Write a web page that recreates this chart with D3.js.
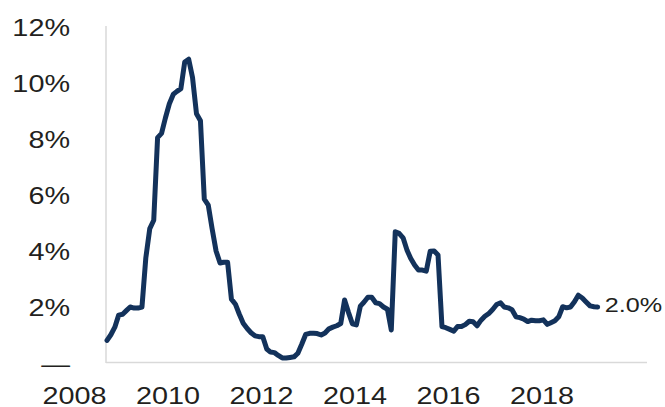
<!DOCTYPE html>
<html>
<head>
<meta charset="utf-8">
<script src="https://cdn.jsdelivr.net/npm/d3@7"></script>
<style>
  body { margin: 0; background: #fff; }
  text { font-family: "Liberation Sans", Arial, sans-serif; fill: #231f20; }
</style>
</head>
<body>
<svg width="665" height="407"></svg>
<script>
// monthly series, first point Sep 2008, last Mar 2019 (percent)
var startMonth = [2008, 8];
var values = [
  0.81, 1.01, 1.28, 1.71, 1.74, 1.88, 2.0, 1.96, 1.96, 2.0,
  3.75, 4.8, 5.1, 8.05, 8.2, 8.75, 9.26, 9.6, 9.7, 9.8,
  10.75, 10.85, 10.2, 8.9, 8.65, 5.85, 5.64, 4.8, 4.0, 3.57,
  3.6, 3.6, 2.28, 2.1, 1.75, 1.42, 1.23, 1.08, 0.97, 0.94,
  0.94, 0.5, 0.39, 0.37, 0.27, 0.18, 0.18, 0.2, 0.22, 0.35,
  0.68, 1.02, 1.06, 1.06, 1.05, 1.0, 1.07, 1.22, 1.28, 1.33,
  1.41, 2.25, 1.8, 1.4, 1.36, 2.03, 2.17, 2.35, 2.35, 2.15,
  2.12, 2.0, 1.92, 1.18, 4.69, 4.63, 4.47, 4.03, 3.74, 3.5,
  3.32, 3.32, 3.28, 3.99, 4.0, 3.86, 1.3, 1.26, 1.2, 1.14,
  1.3, 1.3, 1.37, 1.49, 1.47, 1.33, 1.53, 1.67, 1.77, 1.91,
  2.09, 2.15, 2.0, 1.97, 1.9, 1.65, 1.62, 1.57, 1.48, 1.53,
  1.51, 1.51, 1.54, 1.38, 1.44, 1.51, 1.65, 2.01, 1.97, 2.0,
  2.19, 2.42, 2.32, 2.18, 2.04, 2.01, 2.0
];
var yTicks = [0, 2, 4, 6, 8, 10, 12];
var xTickYears = [2008, 2010, 2012, 2014, 2016, 2018];
var lastLabel = "2.0%";

var data = values.map(function(v, i) {
  return { date: new Date(startMonth[0], startMonth[1] + i, 15), value: v };
});

var svg = d3.select("svg");
var plotLeft = 106, plotRight = 647, plotTop = 27, plotBottom = 363;
var stretch = "scale(1.2,1)";

var xScale = d3.scaleTime()
  .domain([new Date(2008, 0, 1), new Date(2020, 0, 1)])
  .range([74, 635]);
var yScale = d3.scaleLinear().domain([0, 12]).range([plotBottom, plotTop]);

// frame lines
svg.append("line")
  .attr("x1", plotLeft).attr("x2", plotLeft)
  .attr("y1", plotTop - 1).attr("y2", plotBottom)
  .attr("stroke", "#d9d9d9").attr("stroke-width", 1.5);
svg.append("line")
  .attr("x1", plotLeft).attr("x2", plotRight)
  .attr("y1", plotBottom - 0.5).attr("y2", plotBottom - 0.5)
  .attr("stroke", "#d9d9d9").attr("stroke-width", 1.5);

// Y axis
var yAxis = svg.append("g")
  .attr("transform", "translate(70,0)")
  .call(d3.axisLeft(yScale).tickValues(yTicks).tickSize(0).tickPadding(0)
    .tickFormat(function(d) { return d === 0 ? "\u2014" : d + "%"; }));
yAxis.select(".domain").remove();
yAxis.selectAll("text")
  .attr("x", 0).attr("dy", "0.35em")
  .attr("transform", stretch)
  .style("font-size", "24px")
  .style("fill", "#231f20");

// X axis
var xAxis = svg.append("g")
  .attr("transform", "translate(0," + plotBottom + ")")
  .call(d3.axisBottom(xScale)
    .tickValues(xTickYears.map(function(y) { return new Date(y, 0, 1); }))
    .tickSize(0).tickFormat(d3.timeFormat("%Y")));
xAxis.select(".domain").remove();
xAxis.selectAll("text")
  .attr("y", 41.5).attr("dy", 0)
  .attr("transform", stretch)
  .style("font-size", "24px")
  .style("fill", "#231f20");

// line
svg.append("path")
  .datum(data)
  .attr("fill", "none")
  .attr("stroke", "#13325b")
  .attr("stroke-width", 5)
  .attr("stroke-linejoin", "round")
  .attr("stroke-linecap", "round")
  .attr("d", d3.line()
    .x(function(d) { return xScale(d.date); })
    .y(function(d) { return yScale(d.value); }));

// end label
var last = data[data.length - 1];
svg.append("text")
  .attr("transform", "translate(" + (xScale(last.date) + 7) + "," + (yScale(last.value) - 2) + ")" + stretch)
  .attr("dy", "0.35em")
  .style("font-size", "21px")
  .text(lastLabel);
</script>
</body>
</html>
